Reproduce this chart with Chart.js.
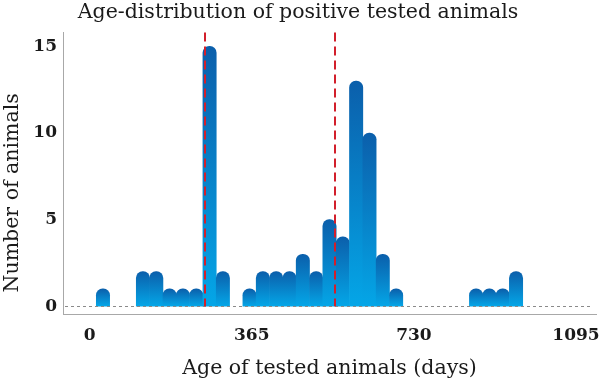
<!DOCTYPE html>
<html>
<head>
<meta charset="utf-8">
<script src="https://cdn.jsdelivr.net/npm/chart.js@4/dist/chart.umd.min.js"></script>
<style>
html,body{margin:0;padding:0;background:#fff;}
#wrap{width:600px;height:381px;position:relative;}
</style>
</head>
<body>
<div id="wrap"><canvas id="c" width="600" height="381"></canvas></div>
<script>
// Age bins (centre, days) and counts of positive animals
const ageDays = [30, 120, 150, 180, 210, 240, 270, 300, 360, 390, 420, 450, 480, 510, 540, 570, 600, 630, 660, 690, 870, 900, 930, 960];
const counts  = [1,  2,   2,   1,   1,   1,   15,  2,   1,   2,   2,   2,   3,   2,   5,   4,   13,  10,  3,   1,   1,   1,   1,   2];
// Reference lines (days)
const markerDays = [260, 552];
const xTickValues = [0, 365, 730, 1095];
const yTickValues = [0, 5, 10, 15];

const points = ageDays.map((d, i) => ({x: d, y: counts[i]}));

const overlay = {
  id: 'overlay',
  afterDatasetsDraw(chart) {
    const ctx = chart.ctx, x = chart.scales.x, y = chart.scales.y, a = chart.chartArea;
    const y0 = y.getPixelForValue(0);
    ctx.save();
    ctx.strokeStyle = '#8a8a8a';
    ctx.lineWidth = 1;
    ctx.setLineDash([3, 3]);
    ctx.beginPath();
    ctx.moveTo(a.left + 2, Math.round(y0) + 0.5);
    ctx.lineTo(a.right - 5, Math.round(y0) + 0.5);
    ctx.stroke();
    ctx.strokeStyle = '#d21f2b';
    ctx.lineWidth = 2;
    ctx.setLineDash([9, 5]);
    markerDays.forEach(d => {
      const px = Math.round(x.getPixelForValue(d));
      ctx.beginPath();
      ctx.moveTo(px, a.top);
      ctx.lineTo(px, y0);
      ctx.stroke();
    });
    ctx.restore();
  }
};

new Chart(document.getElementById('c'), {
  type: 'bar',
  data: {
    datasets: [{
      data: points,
      backgroundColor(c) {
        const chart = c.chart;
        if (!chart.chartArea || !c.raw) return '#0a84d0';
        const ys = chart.scales.y;
        const top = ys.getPixelForValue(c.raw.y), bot = ys.getPixelForValue(0);
        const g = chart.ctx.createLinearGradient(0, top, 0, bot);
        g.addColorStop(0, '#0b5fab');
        g.addColorStop(1, '#04a6e7');
        return g;
      },
      borderWidth: 0,
      borderRadius: {topLeft: 7, topRight: 7, bottomLeft: 0, bottomRight: 0},
      borderSkipped: 'start',
      barPercentage: 1.0,
      categoryPercentage: 1.0
    }]
  },
  options: {
    responsive: false,
    animation: false,
    layout: {padding: {left: 0, right: 4, top: 0, bottom: 0}},
    plugins: {
      legend: {display: false},
      tooltip: {enabled: false},
      title: {
        display: true,
        text: 'Age-distribution of positive tested animals',
        color: '#1a1a1a',
        font: {family: 'DejaVu Serif', size: 20.5, weight: 'normal', lineHeight: 1.15},
        padding: {top: 1, bottom: 8}
      }
    },
    scales: {
      x: {
        type: 'linear',
        min: -60,
        max: 1140,
        offset: false,
        afterBuildTicks(s) { s.ticks = xTickValues.map(v => ({value: v})); },
        afterFit(s) { s.height = 67; },
        grid: {display: true, drawOnChartArea: false, drawTicks: true, tickLength: 11, color: 'rgba(0,0,0,0)'},
        border: {display: true, color: '#a8a8a8', width: 1},
        ticks: {
          color: '#1a1a1a',
          padding: 0,
          maxRotation: 0,
          callback: v => String(v),
          font: {family: 'DejaVu Serif', size: 17, weight: 'bold'}
        },
        title: {
          display: true,
          text: 'Age of tested animals (days)',
          color: '#1a1a1a',
          font: {family: 'DejaVu Serif', size: 20.5, lineHeight: 1.15},
          padding: {top: 0, bottom: 1}
        }
      },
      y: {
        min: -0.45,
        max: 15.8,
        afterBuildTicks(s) { s.ticks = yTickValues.map(v => ({value: v})); },
        afterFit(s) { s.width = 63; },
        grid: {display: false, drawTicks: false},
        border: {display: true, color: '#a8a8a8', width: 1},
        ticks: {
          color: '#1a1a1a',
          padding: 6,
          font: {family: 'DejaVu Serif', size: 17, weight: 'bold'}
        },
        title: {
          display: true,
          text: 'Number of animals      ',
          color: '#1a1a1a',
          font: {family: 'DejaVu Serif', size: 20.5, lineHeight: 1.15},
          padding: {top: 1, bottom: 2}
        }
      }
    }
  },
  plugins: [overlay]
});
</script>
</body>
</html>
